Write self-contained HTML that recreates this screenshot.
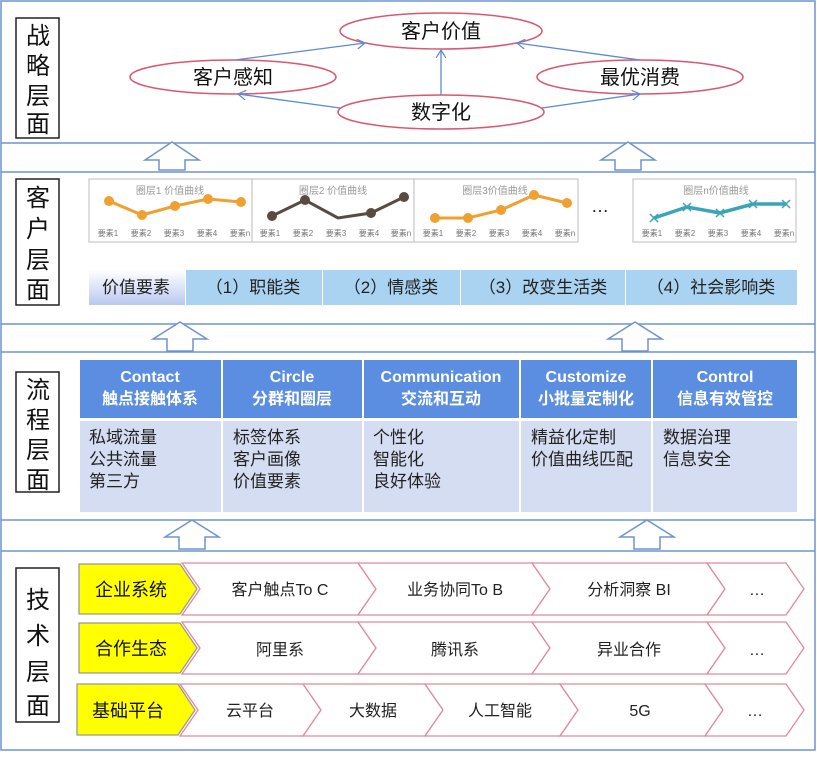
<!DOCTYPE html>
<html><head><meta charset="utf-8"><style>
body{margin:0;background:#fff}
svg text{font-family:"Liberation Sans","Noto Sans CJK SC",sans-serif}
</style></head><body>
<svg width="817" height="752" viewBox="0 0 817 752" xmlns="http://www.w3.org/2000/svg">
<defs>
<marker id="ah" markerWidth="10" markerHeight="10" refX="8" refY="5" orient="auto" markerUnits="userSpaceOnUse"><path d="M0,0 L8,5 L0,10" fill="none" stroke="#5b8ad6" stroke-width="1.2"/></marker>
<linearGradient id="gv" x1="0" y1="0" x2="0" y2="1"><stop offset="0" stop-color="#fff"/><stop offset="1" stop-color="#b9c8ef"/></linearGradient>
</defs>
<rect x="1" y="1" width="814" height="749" fill="none" stroke="#6f93cf" stroke-width="1.5"/>
<g stroke="#6f93cf" stroke-width="1.5">
<line x1="1" y1="143" x2="815" y2="143"/><line x1="1" y1="172" x2="815" y2="172"/>
<line x1="1" y1="324" x2="815" y2="324"/><line x1="1" y1="352" x2="815" y2="352"/>
<line x1="1" y1="520" x2="815" y2="520"/><line x1="1" y1="551" x2="815" y2="551"/>
</g>
<g fill="#fff" stroke="#222" stroke-width="1.5">
<rect x="16" y="18" width="43" height="120"/><rect x="16" y="179" width="43" height="126"/>
<rect x="16" y="372" width="43" height="120"/><rect x="16" y="568" width="43" height="154"/>
</g>
<g font-size="24" text-anchor="middle" fill="#111">
<text x="38" y="44">战</text><text x="38" y="74">略</text><text x="38" y="104">层</text><text x="38" y="132">面</text>
<text x="38" y="206">客</text><text x="38" y="237">户</text><text x="38" y="268">层</text><text x="38" y="298">面</text>
<text x="38" y="398">流</text><text x="38" y="428">程</text><text x="38" y="458">层</text><text x="38" y="488">面</text>
<text x="38" y="608">技</text><text x="38" y="644">术</text><text x="38" y="680">层</text><text x="38" y="714">面</text>
</g>
<g fill="#fff" stroke="#d9576f" stroke-width="1.5">
<ellipse cx="441" cy="31" rx="101" ry="18"/>
<ellipse cx="233" cy="77" rx="103" ry="17"/>
<ellipse cx="640" cy="77" rx="103" ry="17"/>
<ellipse cx="441" cy="112" rx="103" ry="17"/>
</g>
<g stroke="#5b8ad6" stroke-width="1.3" marker-end="url(#ah)">
<line x1="235" y1="60" x2="365" y2="43"/>
<line x1="640" y1="60" x2="517" y2="43"/>
<line x1="441" y1="95" x2="441" y2="50"/>
<line x1="340" y1="108" x2="238" y2="94"/>
<line x1="542" y1="108" x2="640" y2="94"/>
</g>
<g font-size="20" text-anchor="middle" fill="#111">
<text x="441" y="38">客户价值</text><text x="233" y="84">客户感知</text>
<text x="640" y="84">最优消费</text><text x="441" y="119">数字化</text>
</g>
<g fill="#fff" stroke="#6f93cf" stroke-width="1.5">
<path d="M145,160 L172,142 L199,160 L185,160 L185,170 L159,170 L159,160Z"/>
<path d="M601,160 L628,142 L655,160 L641,160 L641,170 L615,170 L615,160Z"/>
<path d="M153,339 L180,322 L207,339 L193,339 L193,351 L167,351 L167,339Z"/>
<path d="M608,339 L635,322 L662,339 L648,339 L648,351 L622,351 L622,339Z"/>
<path d="M165,537 L192,520 L219,537 L205,537 L205,549 L179,549 L179,537Z"/>
<path d="M620,537 L647,520 L674,537 L660,537 L660,549 L634,549 L634,537Z"/>
</g>
<g fill="#fff" stroke="#c8c8c8" stroke-width="1.2">
<rect x="89" y="179" width="163" height="63"/><rect x="252" y="179" width="162" height="63"/>
<rect x="414" y="179" width="164" height="63"/><rect x="633" y="179" width="163" height="63"/>
</g>
<g font-size="10" fill="#999" text-anchor="middle">
<text x="170" y="194">圈层1 价值曲线</text><text x="333" y="194">圈层2 价值曲线</text>
<text x="495" y="194">圈层3价值曲线</text><text x="716" y="194">圈层n价值曲线</text>
</g>
<g font-size="8" fill="#777" text-anchor="middle">
<text x="108" y="236">要素1</text><text x="141" y="236">要素2</text><text x="174" y="236">要素3</text><text x="207" y="236">要素4</text><text x="240" y="236">要素n</text>
<text x="270" y="236">要素1</text><text x="303" y="236">要素2</text><text x="336" y="236">要素3</text><text x="369" y="236">要素4</text><text x="401" y="236">要素n</text>
<text x="433" y="236">要素1</text><text x="466" y="236">要素2</text><text x="499" y="236">要素3</text><text x="532" y="236">要素4</text><text x="565" y="236">要素n</text>
<text x="652" y="236">要素1</text><text x="685" y="236">要素2</text><text x="718" y="236">要素3</text><text x="751" y="236">要素4</text><text x="784" y="236">要素n</text>
</g>
<polyline points="109,201 142,215 175,206 208,199 241,202" fill="none" stroke="#f0a030" stroke-width="3"/>
<g fill="#f0a030"><circle cx="109" cy="201" r="5"/><circle cx="142" cy="215" r="5"/><circle cx="175" cy="206" r="5"/><circle cx="208" cy="199" r="5"/><circle cx="241" cy="202" r="5"/></g>
<polyline points="272,216 305,200 338,218 371,213 404,197" fill="none" stroke="#5a4a42" stroke-width="3"/>
<g fill="#5a4a42"><circle cx="272" cy="216" r="5"/><circle cx="305" cy="200" r="5"/><circle cx="371" cy="213" r="5"/><circle cx="404" cy="197" r="5"/></g>
<polyline points="435,218 468,218 501,210 534,195 567,203" fill="none" stroke="#f0a030" stroke-width="3"/>
<g fill="#f0a030"><circle cx="435" cy="218" r="5"/><circle cx="468" cy="218" r="5"/><circle cx="501" cy="210" r="5"/><circle cx="534" cy="195" r="5"/><circle cx="567" cy="203" r="5"/></g>
<polyline points="654,218 687,207 720,213 753,204 786,204" fill="none" stroke="#3aa4b8" stroke-width="3.5"/>
<g stroke="#3aa4b8" stroke-width="1.5">
<path d="M650,214l8,8M658,214l-8,8M683,203l8,8M691,203l-8,8M716,209l8,8M724,209l-8,8M749,200l8,8M757,200l-8,8M782,200l8,8M790,200l-8,8"/></g>
<text x="600" y="212" font-size="18" text-anchor="middle" fill="#222">…</text>
<rect x="89" y="270" width="96" height="35" fill="url(#gv)"/>
<g fill="#a9d3f1"><rect x="186" y="270" width="136" height="35"/><rect x="323" y="270" width="137" height="35"/><rect x="461" y="270" width="164" height="35"/><rect x="626" y="270" width="171" height="35"/></g>
<g font-size="17" fill="#222" text-anchor="middle">
<text x="136" y="293">价值要素</text><text x="253" y="293">（1）职能类</text><text x="391" y="293">（2）情感类</text><text x="543" y="293">（3）改变生活类</text><text x="711" y="293">（4）社会影响类</text>
</g>
<g fill="#5b8ee0"><rect x="80" y="360" width="141" height="58"/><rect x="223" y="360" width="139" height="58"/><rect x="364" y="360" width="155" height="58"/><rect x="521" y="360" width="130" height="58"/><rect x="653" y="360" width="144" height="58"/></g>
<g fill="#d5ddf3"><rect x="80" y="421" width="141" height="91"/><rect x="223" y="421" width="139" height="91"/><rect x="364" y="421" width="155" height="91"/><rect x="521" y="421" width="130" height="91"/><rect x="653" y="421" width="144" height="91"/></g>
<g font-size="16" font-weight="bold" fill="#fff" text-anchor="middle">
<text x="150" y="382">Contact</text><text x="150" y="404">触点接触体系</text>
<text x="292" y="382">Circle</text><text x="292" y="404">分群和圈层</text>
<text x="441" y="382">Communication</text><text x="441" y="404">交流和互动</text>
<text x="586" y="382">Customize</text><text x="586" y="404">小批量定制化</text>
<text x="725" y="382">Control</text><text x="725" y="404">信息有效管控</text>
</g>
<g font-size="17" fill="#222">
<text x="89" y="443">私域流量</text><text x="89" y="465">公共流量</text><text x="89" y="487">第三方</text>
<text x="233" y="443">标签体系</text><text x="233" y="465">客户画像</text><text x="233" y="487">价值要素</text>
<text x="373" y="443">个性化</text><text x="373" y="465">智能化</text><text x="373" y="487">良好体验</text>
<text x="531" y="443">精益化定制</text><text x="531" y="465">价值曲线匹配</text>
<text x="663" y="443">数据治理</text><text x="663" y="465">信息安全</text>
</g>
<g fill="#fff" stroke="#e08a9a" stroke-width="1.3">
<path d="M182,563 L358,563 L376,589 L358,615 L182,615 L200,589Z"/>
<path d="M358,563 L532,563 L550,589 L532,615 L358,615 L376,589Z"/>
<path d="M532,563 L707,563 L725,589 L707,615 L532,615 L550,589Z"/>
<path d="M707,563 L786,563 L804,589 L786,615 L707,615 L725,589Z"/>
<path d="M182,622 L358,622 L376,648 L358,674 L182,674 L200,648Z"/>
<path d="M358,622 L532,622 L550,648 L532,674 L358,674 L376,648Z"/>
<path d="M532,622 L707,622 L725,648 L707,674 L532,674 L550,648Z"/>
<path d="M707,622 L786,622 L804,648 L786,674 L707,674 L725,648Z"/>
<path d="M180,684 L303,684 L321,710 L303,736 L180,736 L198,710Z"/>
<path d="M303,684 L425,684 L443,710 L425,736 L303,736 L321,710Z"/>
<path d="M425,684 L560,684 L578,710 L560,736 L425,736 L443,710Z"/>
<path d="M560,684 L705,684 L723,710 L705,736 L560,736 L578,710Z"/>
<path d="M705,684 L786,684 L804,710 L786,736 L705,736 L723,710Z"/>
</g>
<g fill="#ffff00" stroke="#999" stroke-width="1.3">
<path d="M79,564 L180,564 L197,589 L180,614 L79,614Z"/>
<path d="M79,623 L180,623 L197,648 L180,673 L79,673Z"/>
<path d="M77,684 L178,684 L195,710 L178,735 L77,735Z"/>
</g>
<g font-size="18" fill="#111" text-anchor="middle">
<text x="131" y="596">企业系统</text><text x="131" y="655">合作生态</text><text x="128" y="717">基础平台</text>
</g>
<g font-size="16" fill="#222" text-anchor="middle">
<text x="280" y="595">客户触点To C</text><text x="455" y="595">业务协同To B</text><text x="629" y="595">分析洞察 BI</text><text x="757" y="595">…</text>
<text x="280" y="655">阿里系</text><text x="455" y="655">腾讯系</text><text x="629" y="655">异业合作</text><text x="757" y="655">…</text>
<text x="250" y="716">云平台</text><text x="373" y="716">大数据</text><text x="500" y="716">人工智能</text><text x="640" y="716">5G</text><text x="755" y="716">…</text>
</g>
</svg>
</body></html>
